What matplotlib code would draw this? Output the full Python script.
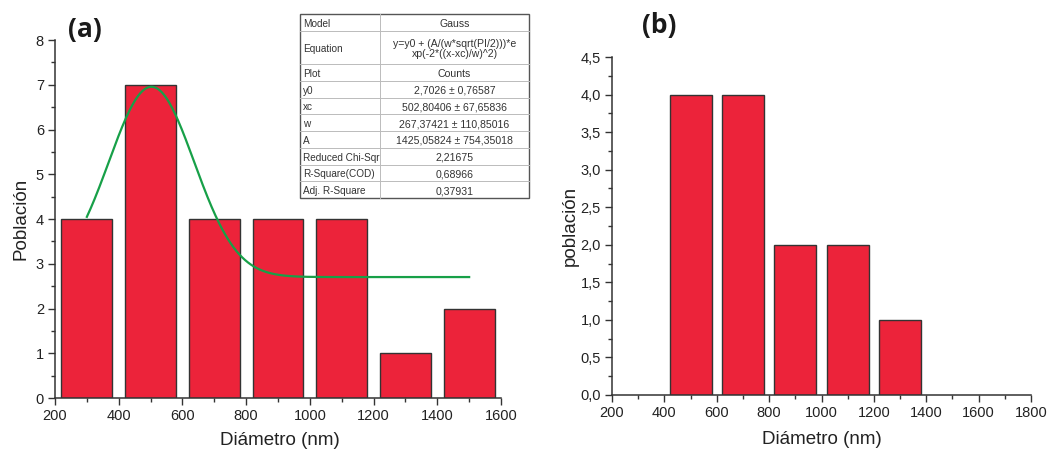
import numpy as np
import matplotlib
matplotlib.use("Agg")
import matplotlib.pyplot as plt
from matplotlib.ticker import MultipleLocator, FuncFormatter
from matplotlib.patches import Rectangle

plt.rcParams['font.family'] = ['Liberation Sans', 'DejaVu Sans']

# Panel (a): size distribution with Gaussian fit
diam_a = [300, 500, 700, 900, 1100, 1300, 1500]
count_a = [4, 7, 4, 4, 4, 1, 2]

# Gaussian fit parameters
y0 = 2.7026
xc = 502.80406
w = 267.37421
A = 1425.05824
fit_range = (300, 1500)

table_rows = ["Model", "Equation", "Plot", "y0", "xc", "w", "A",
              "Reduced Chi-Sqr", "R-Square(COD)", "Adj. R-Square"]
table_vals = ["Gauss",
              "y=y0 + (A/(w*sqrt(PI/2)))*e\nxp(-2*((x-xc)/w)^2)",
              "Counts",
              "2,7026 \u00b1 0,76587",
              "502,80406 \u00b1 67,65836",
              "267,37421 \u00b1 110,85016",
              "1425,05824 \u00b1 754,35018",
              "2,21675", "0,68966", "0,37931"]

# Panel (b): size distribution
diam_b = [500, 700, 900, 1100, 1300]
count_b = [4, 4, 2, 2, 1]

bar_width = 160
bar_color = '#ec233a'
edge_color = '#333333'
fit_color = '#17a048'
text_color = '#222222'

W, H = 1049, 454
fig = plt.figure(figsize=(W / 100, H / 100), dpi=100)


def px_axes(l, t, r, b):
    return fig.add_axes([l / W, 1 - b / H, (r - l) / W, (b - t) / H])


def style(ax):
    for s in ('top', 'right'):
        ax.spines[s].set_visible(False)
    for s in ('left', 'bottom'):
        ax.spines[s].set_color(edge_color)
        ax.spines[s].set_linewidth(1.1)
    ax.tick_params(which='major', direction='out', length=5, width=1.0,
                   color=edge_color, labelsize=10.5, labelcolor=text_color, pad=3)
    ax.tick_params(which='minor', direction='out', length=3, width=1.0,
                   color=edge_color)


comma = FuncFormatter(lambda v, p: f"{v:.1f}".replace('.', ','))

# ---- panel (a)
ax1 = px_axes(55, 40, 501, 398)
ax1.bar(diam_a, count_a, width=bar_width, color=bar_color,
        edgecolor=edge_color, linewidth=1.0, zorder=2)
xs = np.linspace(fit_range[0], fit_range[1], 400)
ys = y0 + A / (w * np.sqrt(np.pi / 2)) * np.exp(-2 * ((xs - xc) / w) ** 2)
ax1.plot(xs, ys, color=fit_color, lw=1.6, zorder=3)
ax1.set_xlim(200, 1600)
ax1.set_ylim(0, 8)
ax1.xaxis.set_major_locator(MultipleLocator(200))
ax1.xaxis.set_minor_locator(MultipleLocator(100))
ax1.yaxis.set_major_locator(MultipleLocator(1))
ax1.yaxis.set_minor_locator(MultipleLocator(0.5))
style(ax1)
ax1.set_xlabel("Diámetro (nm)", fontsize=13.5, color=text_color)
ax1.set_ylabel("Población", fontsize=13.5, color=text_color)
ax1.xaxis.set_label_coords(0.505, -0.096)
ax1.yaxis.set_label_coords(-0.058, 0.5)

# fit summary table
tl, tr, tt, tb = 300, 529, 14, 198
split = 380
units = [2 if '\n' in v else 1 for v in table_vals]
row_h = (tb - tt) / sum(units)
line_col = '#555555'
fig.patches.append(Rectangle((tl / W, 1 - tb / H), (tr - tl) / W, (tb - tt) / H,
                             transform=fig.transFigure, facecolor='white',
                             edgecolor=line_col, linewidth=1.0, zorder=5))
y = tt
for i, (name, val) in enumerate(zip(table_rows, table_vals)):
    h = units[i] * row_h
    mid = y + h / 2 + 1.5
    fig.text((tl + 3) / W, 1 - mid / H, name, ha='left', va='center',
             fontsize=7.2, color='#333333', zorder=6)
    fig.text(((split + tr) / 2) / W, 1 - mid / H, val, ha='center', va='center',
             fontsize=7.6, color='#333333', linespacing=1.1, zorder=6)
    if i > 0:
        fig.add_artist(plt.Line2D([tl / W, tr / W], [1 - y / H, 1 - y / H],
                                  transform=fig.transFigure, color='#bbbbbb',
                                  lw=0.7, zorder=6))
    y += h
fig.add_artist(plt.Line2D([split / W, split / W], [1 - tt / H, 1 - tb / H],
                          transform=fig.transFigure, color='#bbbbbb', lw=0.7, zorder=6))

fig.text(85 / W, 1 - 30 / H, "(a)", fontsize=19, fontweight='bold',
         family=['Open Sans', 'DejaVu Sans'], ha='center', va='center', color='#1a1a1a')

# ---- panel (b)
ax2 = px_axes(612, 57, 1031, 395)
ax2.bar(diam_b, count_b, width=bar_width, color=bar_color,
        edgecolor=edge_color, linewidth=1.0, zorder=2)
ax2.set_xlim(200, 1800)
ax2.set_ylim(0, 4.5)
ax2.xaxis.set_major_locator(MultipleLocator(200))
ax2.xaxis.set_minor_locator(MultipleLocator(100))
ax2.yaxis.set_major_locator(MultipleLocator(0.5))
ax2.yaxis.set_minor_locator(MultipleLocator(0.25))
ax2.yaxis.set_major_formatter(comma)
style(ax2)
ax2.set_xlabel("Diámetro (nm)", fontsize=13.5, color=text_color)
ax2.set_ylabel("población", fontsize=13.5, color=text_color)
ax2.xaxis.set_label_coords(0.501, -0.106)
ax2.yaxis.set_label_coords(-0.079, 0.5)

fig.text(659 / W, 1 - 25 / H, "(b)", fontsize=19, fontweight='bold',
         family=['Open Sans', 'DejaVu Sans'], ha='center', va='center', color='#1a1a1a')

fig.savefig("out.png", dpi=100)
